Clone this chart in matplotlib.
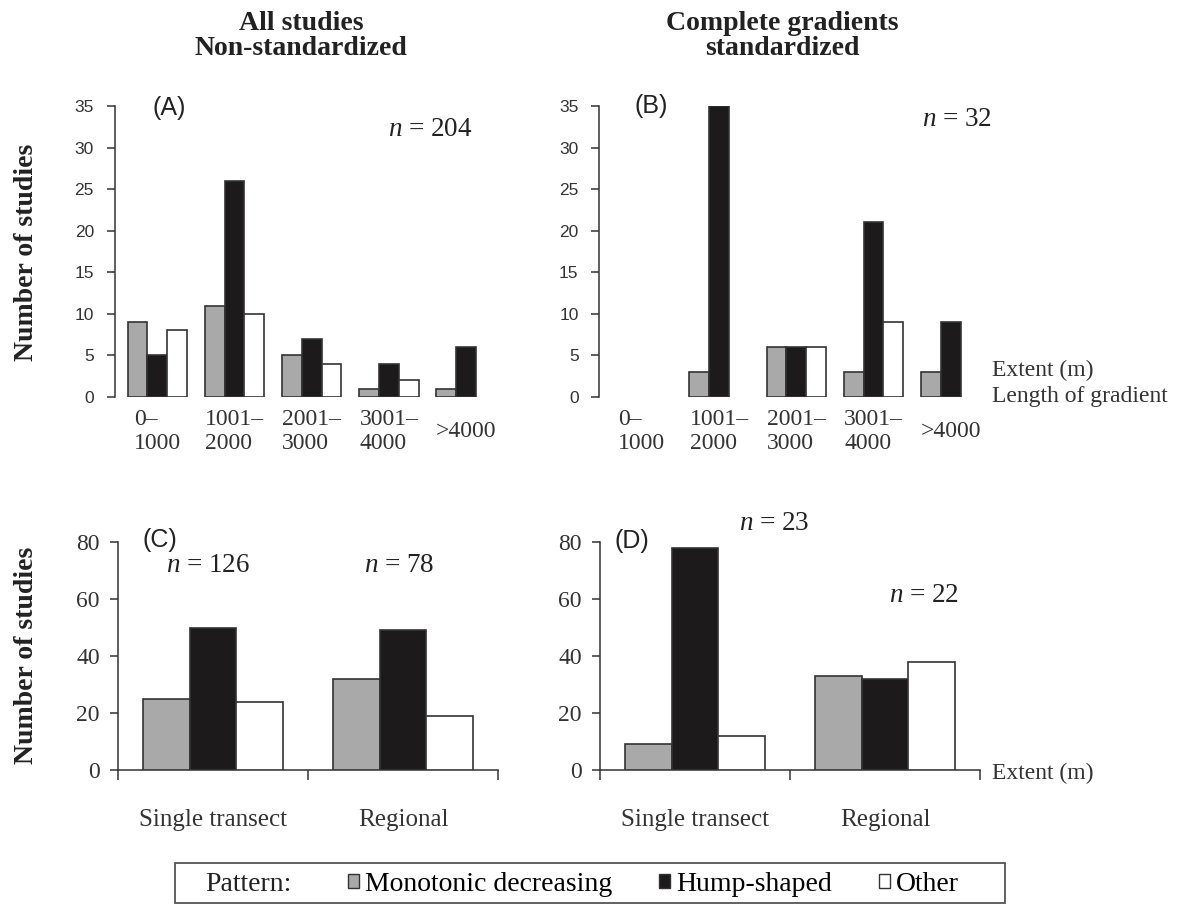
import matplotlib
matplotlib.use("Agg")
import matplotlib.pyplot as plt
from matplotlib.patches import Patch, Rectangle
import numpy as np

plt.rcParams['font.family'] = 'Liberation Serif'
plt.rcParams['mathtext.fontset'] = 'custom'
plt.rcParams['mathtext.it'] = 'Liberation Serif:italic'
plt.rcParams['mathtext.rm'] = 'Liberation Serif'

# data
extent_labels = ["0\u2013\n1000", "1001\u2013\n2000", "2001\u2013\n3000", "3001\u2013\n4000", ">4000"]
a_mono = [9, 11, 5, 1, 1]
a_hump = [5, 26, 7, 4, 6]
a_other = [8, 10, 4, 2, 0]
b_mono = [0, 3, 6, 3, 3]
b_hump = [0, 35, 6, 21, 9]
b_other = [0, 0, 6, 9, 0]

scale_labels = ["Single transect", "Regional"]
c_mono = [25, 32]
c_hump = [50, 49]
c_other = [24, 19]
d_mono = [9, 33]
d_hump = [78, 32]
d_other = [12, 38]

pattern_names = ["Monotonic decreasing", "Hump-shaped", "Other"]
GRAY, BLACK, WHITE = "#a9a9a9", "#1c1a1b", "#ffffff"
EDGE = "#333333"

W, H = 1178, 905
fig = plt.figure(figsize=(W / 100, H / 100), dpi=100)


def px(x, y):
    return x / W, 1 - y / H


def box(left, top, right, bottom):
    return [left / W, 1 - bottom / H, (right - left) / W, (bottom - top) / H]


def bars(ax, mono, hump, other, w):
    for off, vals, col in [(-w, mono, GRAY), (0, hump, BLACK), (w, other, WHITE)]:
        vals = np.asarray(vals)
        x = np.arange(len(vals))
        keep = vals > 0  # empty classes have no bar at all
        ax.bar(x[keep] + off, vals[keep], width=w, color=col, edgecolor=EDGE,
               linewidth=1.2, zorder=3)


def top_panel(ax, mono, hump, other):
    bars(ax, mono, hump, other, 0.256)
    ax.set_xlim(-0.55, 4.55)
    ax.set_ylim(0, 35)
    for s in ['top', 'right', 'bottom']:
        ax.spines[s].set_visible(False)
    ax.spines['left'].set_linewidth(1.1)
    ax.spines['left'].set_color(EDGE)
    ax.set_yticks(range(0, 36, 5))
    ax.tick_params(axis='y', direction='out', length=6, width=1.1, color=EDGE, pad=9)
    for t in ax.get_yticklabels():
        t.set_fontfamily('Liberation Sans')
        t.set_fontsize(12.5)
        t.set_color('#333333')
    ax.set_xticks(range(len(extent_labels)))
    ax.set_xticklabels(extent_labels, fontsize=17, color='#333333')
    ax.tick_params(axis='x', length=0, pad=25)
    plt.setp(ax.get_xticklabels(), va='center', linespacing=1.2, multialignment='left')


def bottom_panel(ax, mono, hump, other):
    bars(ax, mono, hump, other, 0.247)
    ax.set_xlim(-0.5, 1.5)
    ax.set_ylim(0, 80)
    for s in ['top', 'right']:
        ax.spines[s].set_visible(False)
    for s in ['left', 'bottom']:
        ax.spines[s].set_linewidth(1.1)
        ax.spines[s].set_color(EDGE)
    ax.set_yticks(range(0, 81, 20))
    ax.tick_params(axis='y', direction='out', length=6, width=1.1, color=EDGE, pad=7,
                   labelsize=17, labelcolor='#333333')
    ax.set_xticks([-0.5, 0.5, 1.5])
    ax.set_xticklabels([])
    ax.tick_params(axis='x', which='major', direction='out', length=7, width=1.1, color=EDGE)
    ax.set_xticks([0, 1], minor=True)
    ax.set_xticklabels(scale_labels, minor=True, fontsize=18, color='#333333')
    ax.tick_params(axis='x', which='minor', length=0, pad=36)
    plt.setp(ax.get_xticklabels(minor=True), va='center')


ax_a = fig.add_axes(box(114.8, 106, 508.6, 397))
ax_b = fig.add_axes(box(599.4, 106, 993.2, 397))
ax_c = fig.add_axes(box(118, 542, 498, 770))
ax_d = fig.add_axes(box(600, 542, 980, 770))

top_panel(ax_a, a_mono, a_hump, a_other)
top_panel(ax_b, b_mono, b_hump, b_other)
bottom_panel(ax_c, c_mono, c_hump, c_other)
bottom_panel(ax_d, d_mono, d_hump, d_other)

# titles
fig.text(*px(301, 36), "All studies\nNon-standardized", ha='center', va='center',
         fontsize=20, fontweight='bold', linespacing=0.95, color='#222222')
fig.text(*px(782, 36), "Complete gradients\nstandardized", ha='center', va='center',
         fontsize=20, fontweight='bold', linespacing=0.95, color='#222222')

# y labels
fig.text(*px(27, 252), "Number of studies", rotation=90, ha='center', va='center',
         fontsize=20, fontweight='bold', color='#222222')
fig.text(*px(27, 655), "Number of studies", rotation=90, ha='center', va='center',
         fontsize=20, fontweight='bold', color='#222222')

# panel letters
for lab, (x, y) in zip(["(A)", "(B)", "(C)", "(D)"], [(153, 108), (635, 106), (142, 540), (615, 541)]):
    fig.text(*px(x, y), lab, ha='left', va='center', fontsize=18,
             fontfamily='Liberation Sans', color='#222222')

# sample sizes
for lab, (x, y) in zip(["204", "32", "126", "78", "23", "22"],
                       [(388, 130), (922, 120), (166, 565), (364, 565), (739, 523), (889, 595)]):
    fig.text(*px(x, y), r"$n$ = " + lab, ha='left', va='center', fontsize=19.5, color='#222222')

# axis notes
fig.text(*px(992, 370), "Extent (m)", ha='left', va='center', fontsize=17, color='#333333')
fig.text(*px(992, 396), "Length of gradient", ha='left', va='center', fontsize=17, color='#333333')
fig.text(*px(992, 773), "Extent (m)", ha='left', va='center', fontsize=17, color='#333333')

# legend
x0, y0 = px(175, 903)
x1, y1 = px(1005, 863)
fig.patches.append(Rectangle((x0, y0), x1 - x0, y1 - y0, transform=fig.transFigure,
                             facecolor='white', edgecolor='#555555', linewidth=1.3))
fig.text(*px(205, 884), "Pattern:", ha='left', va='center', fontsize=20, color='#222222')
handles = [Patch(facecolor=c, edgecolor=EDGE, linewidth=1.0) for c in (GRAY, BLACK, WHITE)]
fig.legend(handles, pattern_names, loc='center left', bbox_to_anchor=px(348, 884),
           ncol=3, frameon=False, fontsize=20, handlelength=0.4, handleheight=0.4,
           handletextpad=0.2, columnspacing=1.7, borderpad=0, borderaxespad=0)

fig.savefig("out.png", dpi=100)
